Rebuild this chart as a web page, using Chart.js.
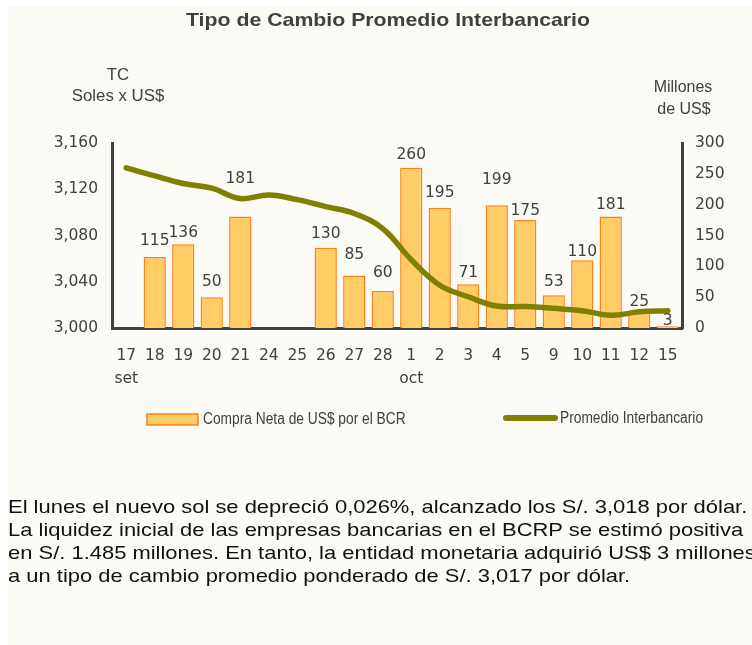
<!DOCTYPE html>
<html><head><meta charset="utf-8">
<script src="https://cdn.jsdelivr.net/npm/chart.js@4.4.1/dist/chart.umd.min.js"></script>
<style>
html,body{margin:0;padding:0;background:#fff;width:752px;height:645px;overflow:hidden;position:relative;}
#bg{position:absolute;left:8px;top:6px;width:744px;height:639px;background:#FBFAF4;}
#wrap{position:absolute;left:0;top:0;width:752px;height:645px;}
#note{position:absolute;left:8px;top:495px;font:19px 'Liberation Sans',Arial,sans-serif;line-height:23px;color:#111;white-space:nowrap;transform-origin:0 0;transform:scaleX(1.155);}
</style></head><body>
<div id="bg"></div>
<div id="wrap"><canvas id="c" width="752" height="645"></canvas></div>
<div id="note">El lunes el nuevo sol se depreció 0,026%, alcanzado los S/. 3,018 por dólar.<br>La liquidez inicial de las empresas bancarias en el BCRP se estimó positiva<br>en S/. 1.485 millones. En tanto, la entidad monetaria adquirió US$ 3 millones<br>a un tipo de cambio promedio ponderado de S/. 3,017 por dólar.</div>
<script>
// ---- data ----
const categories = [['17','set'],'18','19','20','21','24','25','26','27','28',['1','oct'],'2','3','4','5','9','10','11','12','15'];
const compraNeta = [null,115,136,50,181,null,null,130,85,60,260,195,71,199,175,53,110,181,25,3];
const promedioTC = [3138.5,3131.5,3125,3121,3112,3115,3111,3105,3099,3086,3059,3037,3027,3019,3018.5,3017,3015,3011,3014,3015];
const tcTicks = [3000,3040,3080,3120,3160];
const usdTicks = [0,50,100,150,200,250,300];
const seriesNames = ['Compra Neta de US$ por el BCR','Promedio Interbancario'];
const chartTitle = 'Tipo de Cambio Promedio Interbancario';
const leftAxisTitle = ['TC','Soles x US$'];
const rightAxisTitle = ['Millones','de US$'];

const TXT = '#404040';
const tickFont = {family:'DejaVu Sans', size:15.5, lineHeight:1.45};

const overlay = {
  id:'overlay',
  afterDatasetsDraw(chart, args, opts){
    const ctx = chart.ctx;
    const ds = chart.data.datasets[0];
    const meta = chart.getDatasetMeta(0);
    const gaps = opts.labelGaps || [];
    ctx.save();
    ctx.font = '15.5px "DejaVu Sans"';
    ctx.fillStyle = TXT;
    ctx.textAlign = 'center';
    ctx.textBaseline = 'middle';
    meta.data.forEach((el,i)=>{
      const v = ds.data[i];
      if (v === null || v === undefined) return;
      const g = gaps[i] != null ? gaps[i] : 14;
      ctx.fillText(String(v), el.x, el.y - g);
    });
    ctx.restore();
  },
  afterDraw(chart){
    const ctx = chart.ctx;
    const a = chart.chartArea;
    ctx.save();
    ctx.fillStyle = TXT;
    ctx.textAlign = 'center';
    ctx.textBaseline = 'middle';
    // title
    ctx.save();
    ctx.translate(388, 21);
    ctx.scale(1.12, 1);
    ctx.font = 'bold 19px "Liberation Sans", Arial, sans-serif';
    ctx.fillText(chartTitle, 0, 0);
    ctx.restore();
    // axis titles
    ctx.font = '16px "Liberation Sans", Arial, sans-serif';
    ctx.save(); ctx.translate(a.left + 6, 0); ctx.scale(1.05, 1);
    ctx.fillText(leftAxisTitle[0], 0, 76);
    ctx.fillText(leftAxisTitle[1], 0, 97);
    ctx.restore();
    ctx.fillText(rightAxisTitle[0], a.right + 1, 88);
    ctx.fillText(rightAxisTitle[1], a.right + 2, 110);
    // legend
    const bar = chart.data.datasets[0], line = chart.data.datasets[1];
    ctx.fillStyle = bar.backgroundColor;
    ctx.fillRect(147, 414, 51, 11);
    ctx.strokeStyle = bar.borderColor;
    ctx.lineWidth = 1.5;
    ctx.strokeRect(147, 414, 51, 11);
    ctx.strokeStyle = line.borderColor;
    ctx.lineWidth = 6;
    ctx.lineCap = 'round';
    ctx.beginPath(); ctx.moveTo(506, 418); ctx.lineTo(555, 418); ctx.stroke();
    ctx.fillStyle = TXT;
    ctx.textAlign = 'left';
    ctx.font = '16px "Liberation Sans", Arial, sans-serif';
    ctx.save(); ctx.translate(203, 420); ctx.scale(0.86, 1); ctx.fillText(seriesNames[0], 0, 0); ctx.restore();
    ctx.save(); ctx.translate(560, 419); ctx.scale(0.86, 1); ctx.fillText(seriesNames[1], 0, 0); ctx.restore();
    ctx.restore();
  }
};

new Chart(document.getElementById('c'), {
  data: {
    labels: categories,
    datasets: [
      {type:'bar', label:seriesNames[0], data:compraNeta, yAxisID:'y2', order:1,
       backgroundColor:'#FFCC66', borderColor:'#FF7F1A', borderWidth:1.5,
       barPercentage:0.78, categoryPercentage:1},
      {type:'line', label:seriesNames[1], data:promedioTC, yAxisID:'y', order:0,
       borderColor:'#808000', borderWidth:5.5, pointRadius:0, tension:0.4, fill:false,
       borderCapStyle:'round', borderJoinStyle:'round'}
    ]
  },
  options: {
    responsive:false, animation:false, devicePixelRatio:1, locale:'en-US',
    layout:{padding:{left:0,right:0,top:143,bottom:237}},
    plugins:{legend:{display:false}, tooltip:{enabled:false}, title:{display:false},
      overlay:{labelGaps:[14,16,11,15,37,14,14,14,21,18,13,15,11,25,9,13,8,11,11,5]}},
    scales:{
      x:{offset:true, grid:{display:false, drawTicks:false},
         border:{display:true, color:'#404040', width:3},
         ticks:{color:TXT, font:tickFont, padding:17, maxRotation:0, autoSkip:false},
         afterFit(s){ s.height = 80; }},
      y:{position:'left', min:tcTicks[0], max:tcTicks[tcTicks.length-1],
         grid:{display:false, drawTicks:false},
         border:{display:true, color:'#404040', width:3},
         afterBuildTicks(s){ s.ticks = tcTicks.map(v=>({value:v})); },
         ticks:{color:TXT, font:tickFont, padding:14, callback:v=>v.toLocaleString('en-US')},
         afterFit(s){ s.width = 112; }},
      y2:{position:'right', min:usdTicks[0], max:usdTicks[usdTicks.length-1],
         grid:{display:false, drawTicks:false},
         border:{display:true, color:'#404040', width:3},
         afterBuildTicks(s){ s.ticks = usdTicks.map(v=>({value:v})); },
         ticks:{color:TXT, font:tickFont, padding:13},
         afterFit(s){ s.width = 70; }}
    }
  },
  plugins:[overlay]
});
</script>
</body></html>
